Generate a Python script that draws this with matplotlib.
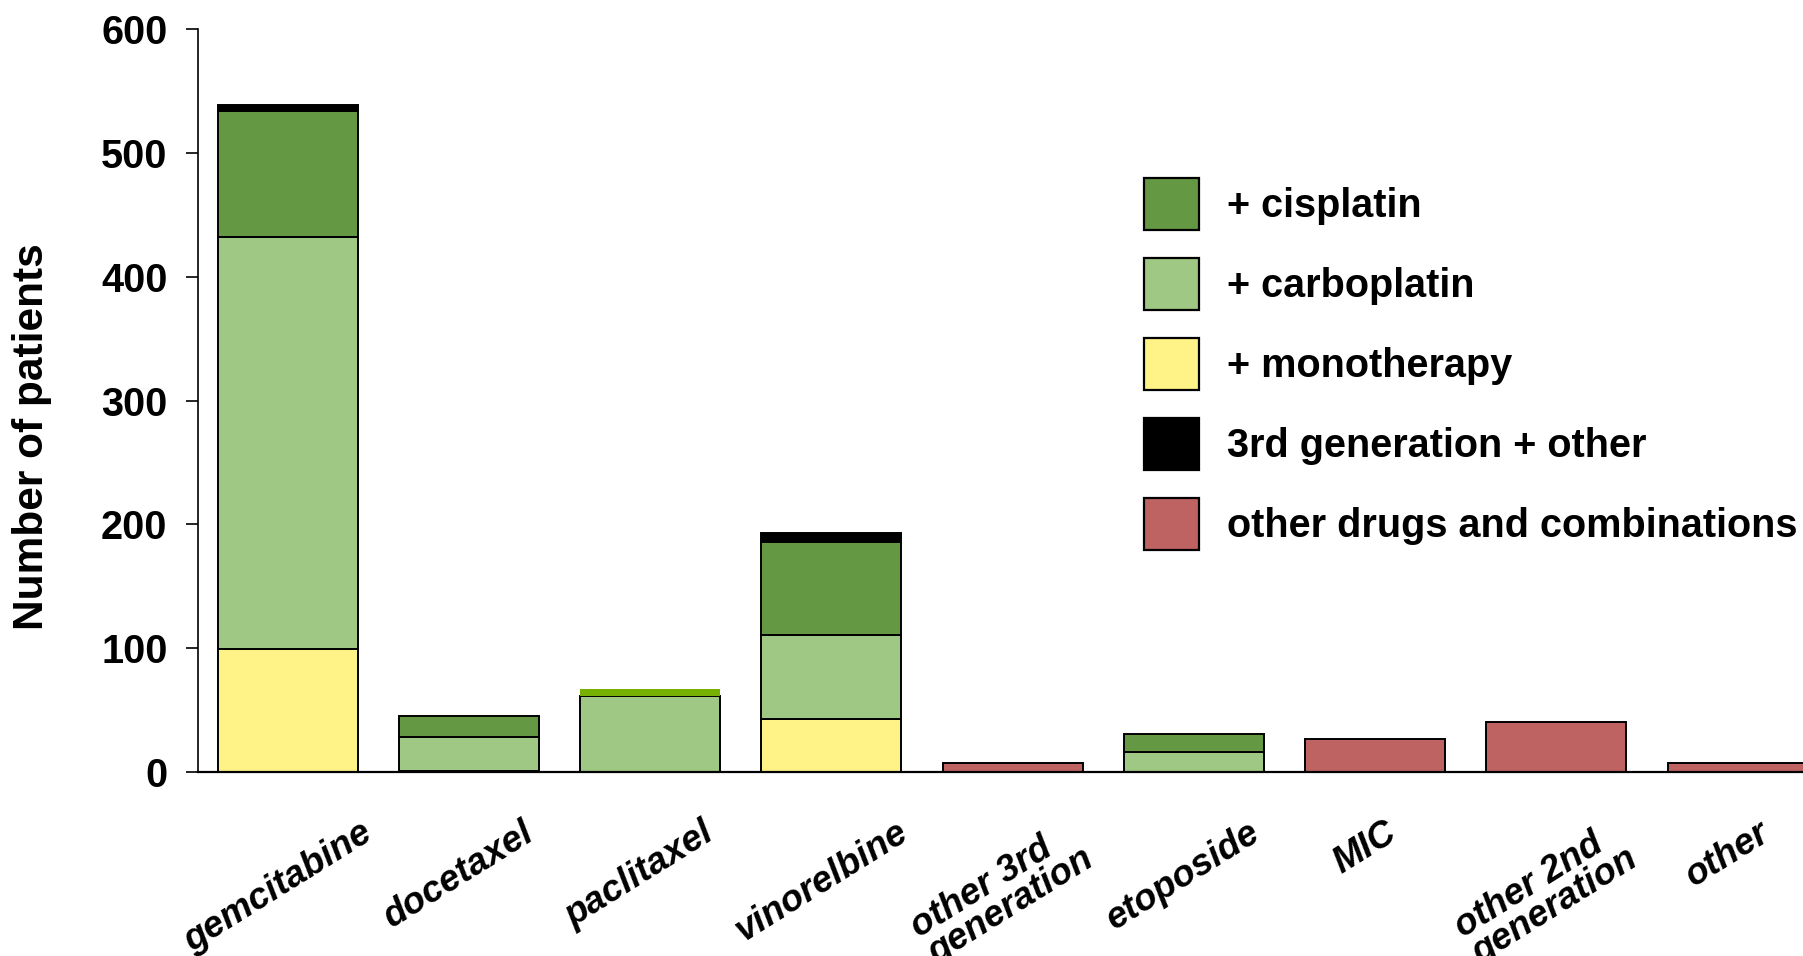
import matplotlib
matplotlib.use("Agg")
import matplotlib.pyplot as plt
import matplotlib.transforms as mtransforms
import numpy as np

# Chemotherapy regimens and number of patients per combination
categories = ["gemcitabine", "docetaxel", "paclitaxel", "vinorelbine",
              "other 3rd\ngeneration", "etoposide", "MIC",
              "other 2nd\ngeneration", "other"]
monotherapy = [99, 1, 0, 43, 0, 0, 0, 0, 0]
carboplatin = [333, 27, 61, 68, 0, 16, 0, 0, 0]
cisplatin = [102, 17, 0, 75, 0, 15, 0, 0, 0]
third_gen_other = [5, 0, 0, 7, 0, 0, 0, 0, 0]
paclitaxel_other = [0, 0, 6, 0, 0, 0, 0, 0, 0]
other_drugs = [0, 0, 0, 0, 7, 0, 27, 40, 7]

y_ticks = [0, 100, 200, 300, 400, 500, 600]

series = [
    ("+ monotherapy", monotherapy, "#FFF286", "black", 1.4),
    ("+ carboplatin", carboplatin, "#9FC884", "black", 1.4),
    ("+ cisplatin", cisplatin, "#659843", "black", 1.4),
    ("3rd generation + other", third_gen_other, "#000000", "black", 1.4),
    (None, paclitaxel_other, "#76B000", "none", 0),
    ("other drugs and combinations", other_drugs, "#BE6262", "black", 1.4),
]

plt.rcParams["font.family"] = ["Liberation Sans", "DejaVu Sans"]
plt.rcParams["font.weight"] = "bold"

W, H = 1803, 956
fig = plt.figure(figsize=(W / 100, H / 100), dpi=100)
ax = fig.add_axes([198 / W, 1 - 772 / H, 1 - 198 / W, (772 - 29.3) / H])

x = np.arange(len(categories))
bottom = np.zeros(len(categories))
handles = {}
for label, vals, color, ec, lw in series:
    vals = np.asarray(vals, dtype=float)
    mask = vals > 0
    bars = ax.bar(x[mask], vals[mask], width=0.772, bottom=bottom[mask],
                  color=color, edgecolor=ec, linewidth=lw, zorder=2)
    if label is not None:
        handles[label] = bars
    bottom += vals

ax.set_xlim(-0.494, 8.361)
ax.set_ylim(0, 600)
ax.set_yticks(y_ticks)
ax.set_yticklabels([str(t) for t in y_ticks], fontsize=28.5, fontweight="bold")
ax.tick_params(axis="y", length=9, width=1.2, pad=13, direction="out")
ax.set_xticks(x)
ax.set_xticklabels(categories, fontsize=26.5, fontweight="bold", style="italic",
                   rotation=32, ha="center", va="top", multialignment="left",
                   linespacing=0.88)
ax.tick_params(axis="x", length=0, pad=31)
# nudge the slanted category labels slightly to the left
shift = mtransforms.ScaledTranslation(-10 / 100, 0, fig.dpi_scale_trans)
for lbl in ax.get_xticklabels():
    lbl.set_transform(lbl.get_transform() + shift)

for side in ("top", "right"):
    ax.spines[side].set_visible(False)
ax.spines["left"].set_linewidth(1.2)
ax.spines["bottom"].set_linewidth(1.6)
ax.spines["bottom"].set_zorder(3)

fig.text(32 / W, 1 - 437 / H, "Number of patients", rotation=90,
         ha="center", va="center", fontsize=30.5, fontweight="bold")

order = ["+ cisplatin", "+ carboplatin", "+ monotherapy",
         "3rd generation + other", "other drugs and combinations"]
leg = fig.legend([handles[k] for k in order], order,
                 loc="upper left", bbox_to_anchor=(1144 / W, 1 - 178 / H),
                 frameon=False, borderpad=0, borderaxespad=0,
                 handlelength=1.38, handleheight=1.64,
                 handletextpad=0.72, labelspacing=0.71,
                 prop={"weight": "bold", "size": 28.5})
for p in leg.get_patches():
    p.set_linewidth(1.6)
    p.set_edgecolor("black")

fig.savefig("out.png", dpi=100)
